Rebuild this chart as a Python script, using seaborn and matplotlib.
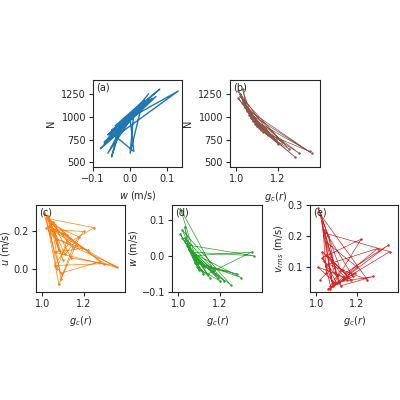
import matplotlib
matplotlib.use("Agg")
import matplotlib.pyplot as plt
import seaborn as sns
import pandas as pd

gc = [1.02,1.05,1.03,1.08,1.04,1.10,1.06,1.01,1.12,1.07,1.03,1.15,1.09,1.05,1.20,1.11,1.04,1.18,1.08,1.02,1.25,1.13,1.06,1.30,1.10,1.03,1.22,1.07,1.35,1.14,1.05,1.17,1.01,1.09,1.28,1.12,1.04,1.36,1.06,1.19]
N = [1250,1100,1300,950,1150,900,1050,1200,850,1000,1180,800,920,1080,700,880,1120,760,960,1220,650,830,1020,600,900,1160,720,980,620,820,1060,780,1280,940,560,860,1100,600,1040,740]
w = [0.05,0.02,0.08,-0.02,0.03,-0.04,0.01,0.06,-0.05,0.0,0.04,-0.06,-0.03,0.02,-0.07,-0.04,0.03,-0.05,-0.01,0.07,-0.08,-0.03,0.01,-0.06,-0.02,0.05,-0.07,0.0,0.01,-0.05,0.02,-0.04,0.13,-0.02,-0.05,-0.03,0.03,0.0,0.01,-0.06]
u = [0.22,0.18,0.28,0.10,0.25,0.05,0.20,0.30,0.15,0.0,0.26,0.12,-0.05,0.21,0.20,0.08,0.24,0.17,-0.08,0.27,0.22,0.14,0.02,0.03,0.19,0.23,0.10,0.16,0.02,0.06,0.25,0.13,0.29,-0.02,0.04,0.18,0.21,0.01,0.09,0.11]
vrms = [0.06,0.08,0.25,0.05,0.12,0.07,0.20,0.29,0.09,0.04,0.15,0.06,0.08,0.18,0.10,0.05,0.22,0.07,0.04,0.27,0.06,0.09,0.11,0.16,0.05,0.13,0.19,0.03,0.17,0.08,0.14,0.06,0.10,0.05,0.07,0.04,0.21,0.15,0.03,0.08]

df = pd.DataFrame({"gc": gc, "N": N, "w": w, "u": u, "vrms": vrms})
sns.set_style("ticks")
plt.rcParams['font.family'] = ['DejaVu Sans']
plt.rcParams['font.size'] = 7

fig = plt.figure(figsize=(4, 4), dpi=100)
W, H = 400, 400
def ax_at(x0, y0, x1, y1):
    return fig.add_axes([x0/W, 1-y1/H, (x1-x0)/W, (y1-y0)/H])

pal = sns.color_palette("tab10")
axa = ax_at(93, 80, 182, 167)
sns.lineplot(data=df, x="w", y="N", sort=False, ax=axa, color=pal[0], lw=1, estimator=None)
axa.set_xlabel("$w$ (m/s)"); axa.set_ylabel("N")
axa.set_xlim(-0.1, 0.14); axa.set_ylim(450, 1400)
axa.set_yticks([500, 750, 1000, 1250])

axb = ax_at(230, 80, 320, 167)
sns.lineplot(data=df, x="gc", y="N", sort=False, ax=axb, color=pal[5], lw=0.5, estimator=None, marker=".", markersize=2, mec=None)
axb.set_xlabel("$g_c(r)$"); axb.set_ylabel("N")
axb.set_xlim(0.97, 1.4); axb.set_ylim(450, 1400)
axb.set_yticks([500, 750, 1000, 1250])

specs = [((36, 205, 125, 292), "u", pal[1], "$u$ (m/s)", (-0.12, 0.34), [0.0, 0.2]),
         ((172, 205, 262, 292), "w", pal[2], "$w$ (m/s)", (-0.1, 0.14), [-0.1, 0.0, 0.1]),
         ((310, 205, 398, 292), "vrms", pal[3], "$v_{rms}$ (m/s)", (0.02, 0.3), [0.1, 0.2, 0.3])]
axes = [axa, axb]
for box, col, c, lab, yl, yt in specs:
    ax = ax_at(*box)
    sns.lineplot(data=df, x="gc", y=col, sort=False, ax=ax, color=c, lw=0.5, estimator=None, marker=".", markersize=2, mec=None)
    ax.set_xlabel("$g_c(r)$"); ax.set_ylabel(lab, labelpad=1)
    ax.set_xlim(0.97, 1.4); ax.set_ylim(*yl); ax.set_yticks(yt)
    axes.append(ax)
for ax, tag in zip(axes, ["(a)", "(b)", "(c)", "(d)", "(e)"]):
    ax.text(0.03, 0.97, tag, transform=ax.transAxes, va="top", ha="left")
    ax.set_xticks([-0.1, 0.0, 0.1] if ax is axa else [1.0, 1.2])
    ax.tick_params(length=3, labelsize=7, pad=2)
    ax.xaxis.label.set_size(7); ax.yaxis.label.set_size(7)
fig.savefig("out.png", dpi=100)
